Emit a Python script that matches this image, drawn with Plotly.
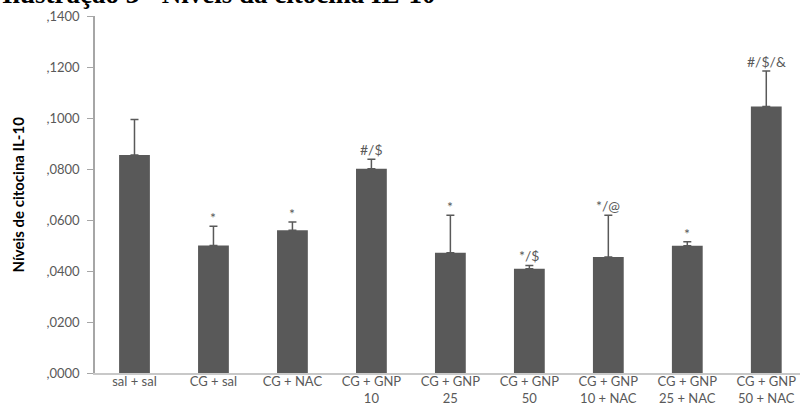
import plotly.graph_objects as go

categories = ["sal + sal", "CG + sal", "CG + NAC", "CG + GNP<br>10", "CG + GNP<br>25",
              "CG + GNP<br>50", "CG + GNP<br>10 + NAC", "CG + GNP<br>25 + NAC", "CG + GNP<br>50 + NAC"]
values = [0.0855, 0.0500, 0.0560, 0.0801, 0.0472, 0.0409, 0.0455, 0.0499, 0.1045]
errors = [0.0139, 0.0075, 0.0032, 0.0037, 0.0147, 0.0013, 0.0164, 0.0016, 0.0139]
sig_labels = ["", "*", "*", "#/$", "*", "*/$", "*/@", "*", "#/$/&"]
ytick_vals = [0, 0.02, 0.04, 0.06, 0.08, 0.10, 0.12, 0.14]
ytick_text = [",0000", ",0200", ",0400", ",0600", ",0800", ",1000", ",1200", ",1400"]

gray = "#595959"
x_idx = list(range(len(categories)))

fig = go.Figure()
fig.add_trace(go.Bar(
    x=x_idx, y=values, width=0.39,
    marker=dict(color=gray, line=dict(width=0)),
    error_y=dict(type="data", symmetric=False, array=errors,
                 arrayminus=[0] * len(errors), color=gray, thickness=1.5, width=4),
    showlegend=False,
))

for i, (v, e, lab) in enumerate(zip(values, errors, sig_labels)):
    if lab:
        fig.add_annotation(x=i, y=v + e, text=lab, showarrow=False, yanchor="bottom",
                           xanchor="center", yshift=-2 if lab == "*" else -1,
                           font=dict(family="Lato", size=14, color=gray))

fig.add_annotation(xref="paper", yref="paper", x=0, y=0.5, xshift=-78,
                   text="Níveis de citocina IL-10", textangle=-90, showarrow=False,
                   xanchor="center", yanchor="middle",
                   font=dict(family="Lato", size=15, color="#000000", weight="bold"))

fig.add_annotation(xref="paper", yref="paper", x=0, y=1, xshift=-95, yshift=5,
                   text="Ilustração 3 - Níveis da citocina IL-10", showarrow=False,
                   xanchor="left", yanchor="bottom",
                   font=dict(family="Liberation Serif", size=27, color="#000000", weight="bold"))

fig.update_layout(
    width=800, height=411,
    margin=dict(l=95, r=0, t=16, b=38),
    plot_bgcolor="white", paper_bgcolor="white",
    xaxis=dict(range=[-0.5, 8.427], tickvals=x_idx, ticktext=categories,
               showgrid=False, zeroline=False, showline=True, linecolor="#c8c8c8",
               linewidth=1.5, ticks="", ticklabelstandoff=-4,
               tickfont=dict(family="Lato", size=13, color=gray)),
    yaxis=dict(range=[0, 0.14], tickvals=ytick_vals, ticktext=ytick_text,
               showgrid=False, zeroline=False, showline=True, linecolor="#a6a6a6",
               linewidth=1.5, ticks="outside", ticklen=6, tickcolor="#a6a6a6",
               ticklabelstandoff=5,
               tickfont=dict(family="Lato", size=13, color=gray)),
)

fig.write_html("out.html", config={"displayModeBar": False},
               post_script="document.body.style.margin='0';document.body.style.overflow='hidden';")
